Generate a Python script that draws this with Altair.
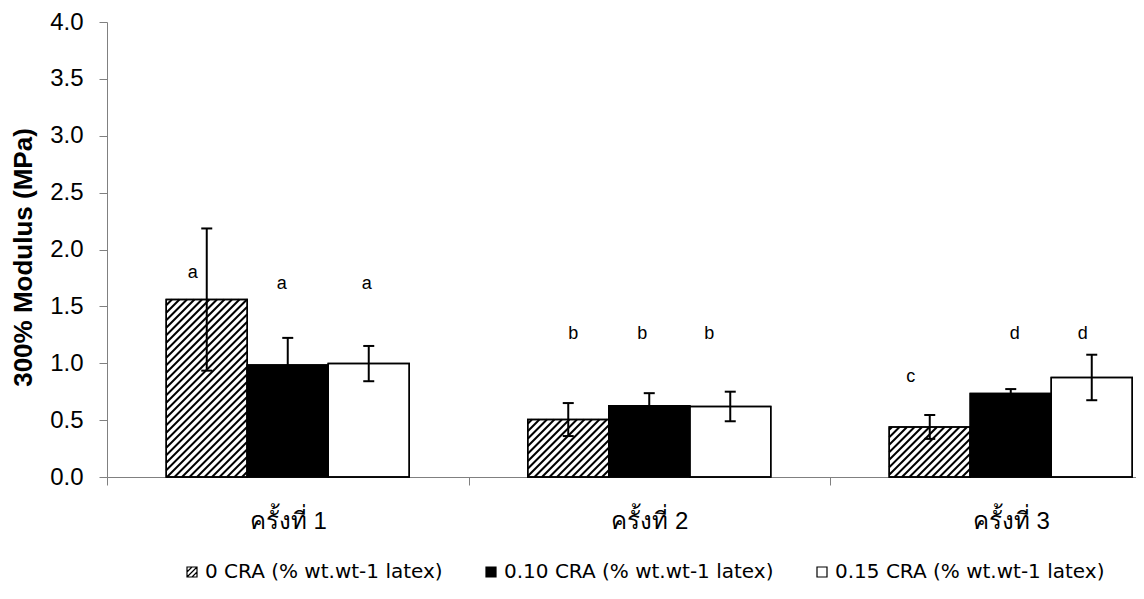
import altair as alt
import pandas as pd
import numpy as np

# ---------------- data ----------------
categories = ["ครั้งที่ 1", "ครั้งที่ 2", "ครั้งที่ 3"]
series = ["0 CRA (% wt.wt-1 latex)", "0.10 CRA (% wt.wt-1 latex)", "0.15 CRA (% wt.wt-1 latex)"]

mean_0 = [1.56, 0.505, 0.44]
mean_010 = [0.985, 0.627, 0.733]
mean_015 = [0.997, 0.62, 0.875]

sd_0 = [0.625, 0.145, 0.105]
sd_010 = [0.238, 0.11, 0.04]
sd_015 = [0.155, 0.13, 0.2]

letters_0 = ["a", "b", "c"]
letters_010 = ["a", "b", "d"]
letters_015 = ["a", "b", "d"]

letter_y_0 = [1.79, 1.26, 0.88]
letter_y_010 = [1.70, 1.26, 1.26]
letter_y_015 = [1.70, 1.26, 1.26]

# ---------------- layout / style constants ----------------
W, H = 1029, 455
YMAX = 4.0
STEP = 361.5                 # px per category
XMIN = -0.5
XMAX = XMIN + W / STEP
BW = 81.0 / STEP             # bar width in category units
CAP = 5.5 / STEP             # half width of error-bar caps
PXX = STEP
PXY = H / YMAX
HATCH_GAP = 7.5
FONT = "Liberation Sans"
LEG_FONT = "DejaVu Sans"
fills = ["white", "black", "white"]
letter_dx_px = [[-14, 5, -19], [-6, -7, 4], [-2, -21, -9]]  # small label nudges

means = [mean_0, mean_010, mean_015]
sds = [sd_0, sd_010, sd_015]
letters = [letters_0, letters_010, letters_015]
letter_ys = [letter_y_0, letter_y_010, letter_y_015]

rows = []
for k in range(3):
    for g in range(3):
        x0 = g + (k - 1.5) * BW
        x1 = g + (k - 0.5) * BW
        c = (x0 + x1) / 2
        v = means[k][g]
        s = sds[k][g]
        rows.append(dict(series=series[k], cat=categories[g], x0=x0, x1=x1, c=c,
                         cl=c - CAP, cr=c + CAP, v=v, lo=v - s, hi=v + s,
                         fillc=fills[k], letter=letters[k][g],
                         lx=c + letter_dx_px[k][g] / STEP, ly=letter_ys[k][g]))
bars = pd.DataFrame(rows)

# hatch lines for the first series (45 degrees in pixel space)
hrows = []
for _, r in bars[bars.series == series[0]].iterrows():
    xl = (r.x0 - XMIN) * PXX
    xr = (r.x1 - XMIN) * PXX
    h = r.v * PXY
    d = np.floor((xl - h) / HATCH_GAP) * HATCH_GAP
    while d < xr:
        xs = max(d, xl)
        xe = min(d + h, xr)
        if xe - xs > 0.5:
            hrows.append(dict(hx=XMIN + xs / PXX, hy=(xs - d) / PXY,
                              hx2=XMIN + xe / PXX, hy2=(xe - d) / PXY))
        d += HATCH_GAP
hatch = pd.DataFrame(hrows)

xscale = alt.Scale(domain=[XMIN, XMAX], nice=False, zero=False)
yscale = alt.Scale(domain=[0, YMAX], nice=False)

label_expr = " : ".join(
    [f"datum.value === {i} ? '{name}'" for i, name in enumerate(categories)]) + " : ''"

xaxis = alt.Axis(values=[-0.5, 0, 0.5, 1, 1.5, 2], labelExpr=label_expr, title=None,
                 grid=False, domainColor="#808080", tickColor="#808080", tickSize=8,
                 tickOpacity={"condition": {"test": "datum.value % 1 === 0", "value": 0}, "value": 1},
                 labelFont=FONT, labelFontSize=24, labelColor="black", labelPadding=24,
                 labelOverlap=False, labelFlush=False)
yaxis = alt.Axis(values=[i * 0.5 for i in range(9)], format=".1f", title="300% Modulus (MPa)",
                 grid=False, domainColor="#808080", tickColor="#808080", tickSize=8,
                 labelFont=FONT, labelFontSize=24, labelColor="black", labelPadding=16,
                 titleFont=FONT, titleFontSize=26, titleFontWeight="bold", titleColor="black",
                 titleX=-84, titleY=235, titleAngle=270, titleAlign="center", titleBaseline="middle")

base = alt.Chart(bars)

bar_layer = base.mark_bar(stroke="black", strokeWidth=1.5).encode(
    x=alt.X("x0:Q", scale=xscale, axis=xaxis),
    x2="x1:Q",
    y=alt.Y("v:Q", scale=yscale, axis=yaxis),
    y2=alt.datum(0),
    fill=alt.Fill("fillc:N", scale=None),
)

hatch_layer = alt.Chart(hatch).mark_rule(color="black", strokeWidth=2).encode(
    x="hx:Q", y="hy:Q", x2="hx2:Q", y2="hy2:Q")

outline_layer = base.mark_bar(fill="white", fillOpacity=0, stroke="black", strokeWidth=1.5).encode(
    x="x0:Q", x2="x1:Q", y="v:Q", y2=alt.datum(0))

err_layer = base.mark_rule(color="black", strokeWidth=2).encode(x="c:Q", y="lo:Q", y2="hi:Q")
cap_hi = base.mark_rule(color="black", strokeWidth=2).encode(x="cl:Q", x2="cr:Q", y="hi:Q")
cap_lo = base.mark_rule(color="black", strokeWidth=2).encode(x="cl:Q", x2="cr:Q", y="lo:Q")

text_layer = base.mark_text(font=FONT, fontSize=18, color="black").encode(
    x="lx:Q", y="ly:Q", text="letter:N")

hatch_symbol = "M-1,-1H1V1H-1Z M-1,1L1,-1 M-1,0L0,-1 M0,1L1,0"
legend = alt.Legend(title=None, orient="none", legendX=75, legendY=540, direction="horizontal",
                    labelFont=LEG_FONT, labelFontSize=20, labelColor="black", labelOffset=3,
                    labelLimit=0, columnPadding=38, symbolSize=100, symbolStrokeColor="black",
                    symbolStrokeWidth=1.2)
leg_df = pd.DataFrame({"series": series, "lx": [0, 0, 0], "ly": [-1.0, -1.0, -1.0]})
legend_layer = alt.Chart(leg_df).mark_point(filled=True, clip=True, stroke="black",
                                            strokeWidth=1.2, opacity=1).encode(
    x="lx:Q", y="ly:Q",
    fill=alt.Fill("series:N", scale=alt.Scale(domain=series, range=fills), legend=legend),
    shape=alt.Shape("series:N", scale=alt.Scale(domain=series,
                    range=[hatch_symbol, "square", "square"]), legend=legend),
)

chart = alt.layer(bar_layer, hatch_layer, outline_layer, err_layer, cap_hi, cap_lo,
                  text_layer, legend_layer).properties(
    width=W, height=H, autosize="none",
    padding={"left": 99, "top": 14, "right": 0, "bottom": 113},
).configure_view(stroke=None)

chart.save("out.html", embed_options={"renderer": "svg", "actions": False})
